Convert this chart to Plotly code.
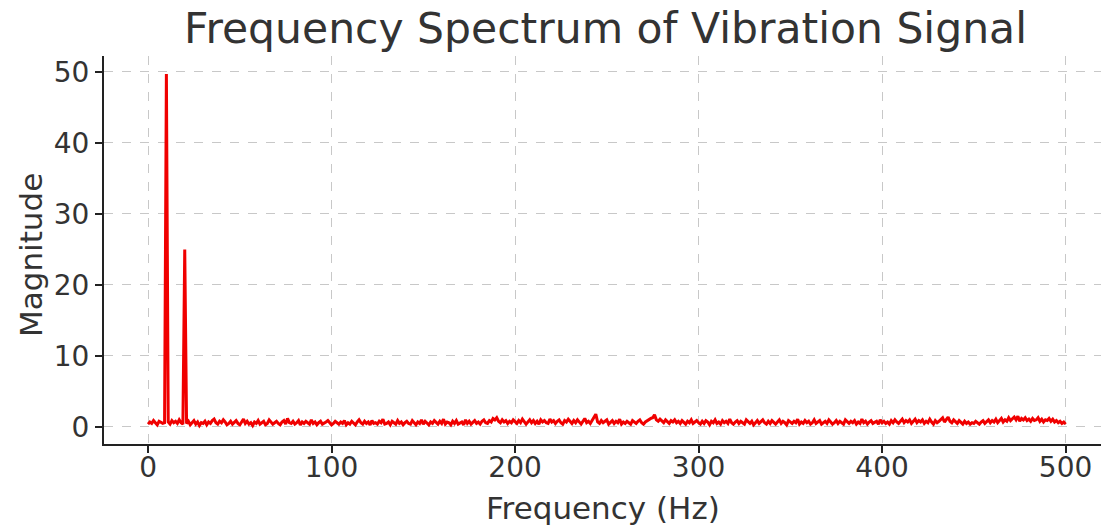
import plotly.graph_objects as go

# Frequency bins (Hz), 1 Hz resolution 0..500
frequency = list(range(501))

# Magnitude values (rows of 20 bins)
magnitude = [
    0.4, 0.7, 0.5, 0.9, 0.6, 0.3, 0.8, 0.7, 0.5, 0.6, 49.7, 0.7, 0.4, 0.9, 0.6, 0.8, 0.5, 1.0, 0.6, 0.4,
    25.0, 0.5, 0.8, 0.3, 0.6, 0.9, 0.4, 0.7, 0.2, 0.6, 0.5, 0.8, 0.3, 0.7, 0.5, 0.9, 1.1, 0.6, 0.4, 0.8,
    0.6, 1.0, 0.7, 0.3, 0.5, 0.8, 0.4, 0.6, 0.9, 0.5, 0.3, 0.7, 1.1, 0.5, 0.8, 0.4, 0.6, 0.2, 0.7, 0.5,
    0.9, 0.4, 0.6, 0.8, 0.3, 0.5, 1.0, 0.7, 0.4, 0.6, 0.8, 0.5, 0.3, 0.7, 0.9, 0.4, 1.2, 0.6, 0.5, 0.8,
    0.4, 0.6, 0.9, 0.3, 0.7, 0.5, 0.8, 0.6, 0.4, 1.0, 0.5, 0.7, 0.3, 0.6, 0.8, 0.4, 0.5, 0.7, 0.9, 0.6,
    0.3, 0.5, 0.8, 0.6, 0.4, 0.7, 0.5, 0.9, 0.3, 0.6, 0.4, 0.8, 0.5, 0.3, 0.7, 1.0, 0.6, 0.4, 0.8, 0.5,
    0.7, 0.3, 0.9, 0.5, 0.6, 0.4, 0.8, 0.6, 1.1, 0.4, 0.5, 0.7, 0.3, 0.8, 0.6, 0.4, 0.9, 0.5, 0.7, 0.3,
    0.6, 0.8, 0.5, 0.4, 0.9, 0.6, 0.3, 0.7, 0.5, 1.0, 0.4, 0.8, 0.6, 0.3, 0.7, 0.5, 0.9, 0.6, 0.4, 0.8,
    0.5, 1.1, 0.4, 0.7, 0.6, 0.3, 0.8, 0.5, 0.9, 0.4, 0.6, 0.7, 0.3, 1.0, 0.5, 0.8, 0.4, 0.6, 0.9, 0.5,
    0.7, 0.4, 0.8, 1.0, 0.6, 0.5, 0.9, 0.7, 1.2, 1.0, 1.3, 0.8, 0.6, 1.0, 0.7, 0.9, 0.5, 0.8, 0.6, 1.0,
    0.7, 0.5, 0.9, 0.6, 1.1, 0.8, 0.4, 0.7, 1.0, 0.6, 0.9, 0.5, 0.8, 0.4, 1.0, 0.7, 0.9, 0.6, 0.5, 1.1,
    0.7, 0.9, 0.5, 0.8, 1.0, 0.6, 0.4, 0.9, 0.7, 1.1, 0.8, 0.5, 0.9, 0.6, 1.0, 0.7, 0.4, 0.8, 1.2, 0.6,
    0.8, 0.5, 1.0, 1.3, 1.8, 0.7, 0.5, 0.9, 0.6, 0.8, 1.0, 0.4, 0.7, 0.9, 0.5, 0.8, 0.6, 1.1, 0.4, 0.7,
    0.5, 0.8, 0.6, 0.4, 0.9, 0.7, 0.5, 0.8, 1.0, 0.6, 0.4, 0.7, 0.9, 1.1, 1.2, 1.3, 1.7, 1.0, 0.8, 1.1,
    0.9, 0.6, 1.0, 0.8, 0.5, 0.9, 0.7, 1.0, 0.6, 0.8, 0.5, 0.9, 0.7, 0.4, 0.8, 0.6, 1.0, 0.5, 0.7, 0.9,
    0.6, 0.4, 0.8, 0.5, 0.9, 0.7, 0.3, 0.8, 0.6, 1.0, 0.5, 0.7, 0.4, 0.9, 0.6, 0.8, 0.5, 1.1, 0.6, 0.4,
    0.7, 0.9, 0.5, 0.8, 0.6, 0.4, 1.0, 0.7, 0.5, 0.8, 0.3, 0.6, 0.9, 0.5, 0.7, 1.0, 0.6, 0.4, 0.8, 0.5,
    0.9, 0.6, 0.4, 0.7, 1.0, 0.5, 0.8, 0.6, 0.3, 0.9, 0.7, 0.5, 0.8, 0.6, 1.1, 0.4, 0.7, 0.5, 0.9, 0.6,
    0.8, 0.4, 0.6, 1.0, 0.5, 0.7, 0.9, 0.4, 0.6, 0.8, 0.5, 1.0, 0.7, 0.4, 0.6, 0.9, 0.5, 0.8, 0.6, 0.4,
    1.0, 0.7, 0.5, 0.8, 0.6, 0.9, 0.4, 0.7, 0.5, 1.1, 0.6, 0.8, 0.4, 0.7, 0.9, 0.5, 0.6, 0.8, 0.4, 1.0,
    0.6, 0.8, 0.5, 0.7, 0.4, 0.9, 0.6, 1.0, 0.7, 0.5, 0.8, 1.1, 0.6, 0.9, 0.7, 1.0, 0.5, 0.8, 1.1, 0.6,
    0.9, 0.7, 1.0, 0.5, 0.8, 0.6, 1.1, 0.7, 0.4, 0.9, 0.6, 0.8, 1.0, 1.3, 0.7, 1.0, 1.4, 0.8, 0.6, 1.0,
    0.7, 0.5, 0.9, 0.6, 0.4, 0.8, 0.5, 0.7, 0.4, 0.6, 0.5, 0.8, 0.6, 0.4, 0.7, 0.9, 0.5, 0.8, 1.0, 0.6,
    0.9, 0.7, 1.1, 0.6, 0.9, 1.2, 0.7, 1.0, 0.8, 1.3, 0.9, 1.1, 1.4, 1.0, 1.5, 0.8, 1.2, 1.0, 1.3, 0.9,
    1.1, 0.8, 1.2, 0.9, 1.0, 1.3, 0.8, 1.1, 0.7, 1.0, 0.9, 1.2, 0.8, 1.1, 0.7, 0.9, 0.6, 0.8, 0.5, 0.7,
    0.4,
]

x_ticks = [0, 100, 200, 300, 400, 500]
y_ticks = [0, 10, 20, 30, 40, 50]

title_text = "Frequency Spectrum of Vibration Signal"
x_label = "Frequency (Hz)"
y_label = "Magnitude"

FONT = "DejaVu Sans"
TXT = "#333333"
W, H = 1101, 531

fig = go.Figure()
fig.add_trace(go.Scatter(
    x=frequency, y=magnitude, mode="lines",
    line=dict(color="#f00000", width=3),
    showlegend=False,
))

axis_common = dict(
    showline=True, linecolor="#222222", linewidth=2, mirror=False,
    ticks="outside", ticklen=7, tickwidth=2, tickcolor="#222222",
    showgrid=True, gridcolor="#c8c8c8", gridwidth=1, griddash="dash",
    zeroline=False, automargin=False,
    tickfont=dict(family=FONT, size=28, color=TXT),
)

fig.update_layout(
    width=W, height=H,
    paper_bgcolor="white", plot_bgcolor="white",
    margin=dict(l=104, r=0, t=56, b=87, autoexpand=False),
    title=dict(text=title_text, x=0.503, xref="paper", xanchor="center",
               y=1 - 28 / H, yref="container", yanchor="middle",
               font=dict(family=FONT, size=42.5, color=TXT)),
    xaxis=dict(range=[-24, 519.3], tickvals=x_ticks, ticklabelstandoff=-10, **axis_common),
    yaxis=dict(range=[-2.4, 52.25], tickvals=y_ticks, ticklabelstandoff=0, **axis_common),
    annotations=[
        dict(text=x_label, xref="paper", yref="paper", x=0.5, xanchor="center",
             y=-(508 - 444) / (H - 56 - 87), yanchor="middle", showarrow=False,
             font=dict(family=FONT, size=31, color=TXT)),
        dict(text=y_label, xref="paper", yref="paper", x=-(104 - 31) / (W - 104), xanchor="center",
             y=(444 - 255) / (H - 56 - 87), yanchor="middle", showarrow=False, textangle=-90,
             font=dict(family=FONT, size=31, color=TXT)),
    ],
)

fig.write_html("out.html", config={"displayModeBar": False},
               post_script="document.body.style.margin='0';document.body.style.padding='0';")
